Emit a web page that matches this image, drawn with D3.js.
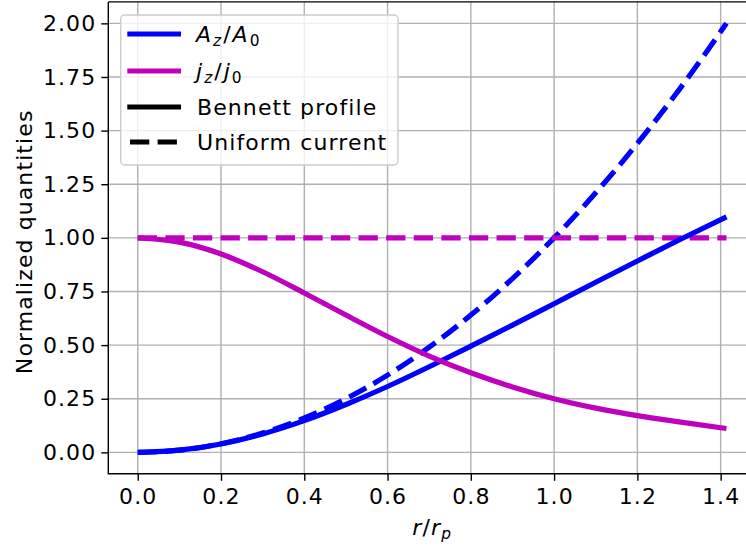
<!DOCTYPE html>
<html>
<head>
<meta charset="utf-8">
<script src="https://cdn.jsdelivr.net/npm/d3@7"></script>
<style>
  body { margin: 0; background: #fff; }
  text { font-family: "DejaVu Sans", sans-serif; fill: #000; letter-spacing: 1.1px; }
</style>
</head>
<body>
<div id="chart"></div>
<script>
// values
var rValues  = [0, 0.1, 0.2, 0.3, 0.4, 0.5, 0.6, 0.7, 0.8, 0.9, 1.0, 1.1, 1.2, 1.3, 1.414];
var bennettA = [0, 0.01, 0.039, 0.086, 0.148, 0.223, 0.307, 0.399, 0.495, 0.593, 0.693, 0.793, 0.892, 0.99, 1.098];
var uniformA = [0, 0.01, 0.04, 0.09, 0.16, 0.25, 0.36, 0.49, 0.64, 0.81, 1.0, 1.21, 1.44, 1.69, 2.0];
var bennettJ = [1, 0.98, 0.925, 0.842, 0.743, 0.64, 0.54, 0.449, 0.371, 0.305, 0.25, 0.206, 0.171, 0.142, 0.111];
var uniformJ = [1, 1, 1, 1, 1, 1, 1, 1, 1, 1, 1, 1, 1, 1, 1];

var xTicks = [0, 0.2, 0.4, 0.6, 0.8, 1.0, 1.2, 1.4];
var yTicks = [0, 0.25, 0.5, 0.75, 1.0, 1.25, 1.5, 1.75, 2.0];

var svgWidth = 746;
var svgHeight = 546;
var fontSize = 22;
var lw = 5.2;
var dash = "19.3,8.3";
var blue = "#0000ff";
var magenta = "#bf00bf";

var svg = d3.select("#chart")
  .append("svg")
  .attr("width", svgWidth)
  .attr("height", svgHeight);

var xScale = d3.scaleLinear()
  .domain([-0.0707, 1.4849])
  .range([108.3, 756]);

var yScale = d3.scaleLinear()
  .domain([-0.1, 2.1])
  .range([473.8, 1.9]);

var plotLeft = xScale.range()[0], plotRight = xScale.range()[1];
var plotBottom = yScale.range()[0], plotTop = yScale.range()[1];

// grid
svg.append("g").selectAll("line")
  .data(xTicks).enter().append("line")
  .attr("x1", d => xScale(d)).attr("x2", d => xScale(d))
  .attr("y1", plotTop).attr("y2", plotBottom)
  .attr("stroke", "#b0b0b0").attr("stroke-width", 1.4);

svg.append("g").selectAll("line")
  .data(yTicks).enter().append("line")
  .attr("x1", plotLeft).attr("x2", plotRight)
  .attr("y1", d => yScale(d)).attr("y2", d => yScale(d))
  .attr("stroke", "#b0b0b0").attr("stroke-width", 1.4);

// axes
var bottomAxis = d3.axisBottom(xScale).tickValues(xTicks)
  .tickFormat(d3.format(".1f")).tickSize(7).tickPadding(8);
var leftAxis = d3.axisLeft(yScale).tickValues(yTicks)
  .tickFormat(d3.format(".2f")).tickSize(7).tickPadding(5);

var gx = svg.append("g")
  .attr("transform", `translate(0, ${plotBottom})`)
  .call(bottomAxis);
var gy = svg.append("g")
  .attr("transform", `translate(${plotLeft}, 0)`)
  .call(leftAxis);

[gx, gy].forEach(function(g) {
  g.attr("font-size", fontSize).attr("font-family", "DejaVu Sans");
  g.select(".domain").remove();
  g.selectAll("line").attr("stroke", "#000").attr("stroke-width", 1.4);
  g.selectAll("text").attr("fill", "#000");
});

// curves
svg.append("clipPath").attr("id", "plotclip")
  .append("rect")
  .attr("x", plotLeft).attr("y", plotTop)
  .attr("width", plotRight - plotLeft).attr("height", plotBottom - plotTop);

var line = d3.line()
  .x(d => xScale(d[0]))
  .y(d => yScale(d[1]))
  .curve(d3.curveMonotoneX);

var series = [
  { values: uniformA, color: blue, dashed: true },
  { values: uniformJ, color: magenta, dashed: true },
  { values: bennettA, color: blue, dashed: false },
  { values: bennettJ, color: magenta, dashed: false }
];

var plot = svg.append("g").attr("clip-path", "url(#plotclip)");
series.forEach(function(s) {
  plot.append("path")
    .datum(rValues.map((r, i) => [r, s.values[i]]))
    .attr("d", line)
    .attr("fill", "none")
    .attr("stroke", s.color)
    .attr("stroke-width", lw)
    .attr("stroke-dasharray", s.dashed ? dash : null);
});

// frame
svg.append("path")
  .attr("d", `M${plotLeft},${plotTop}H${plotRight}M${plotLeft},${plotTop}V${plotBottom}H${plotRight}`)
  .attr("fill", "none")
  .attr("stroke", "#000")
  .attr("stroke-width", 1.4);

// axis labels
var xLabel = svg.append("text")
  .attr("x", (plotLeft + plotRight) / 2)
  .attr("y", 535)
  .attr("text-anchor", "middle")
  .attr("font-size", fontSize);
xLabel.append("tspan").attr("font-style", "italic").text("r");
xLabel.append("tspan").text("/");
xLabel.append("tspan").attr("font-style", "italic").text("r");
xLabel.append("tspan").attr("font-style", "italic").attr("font-size", fontSize * 0.7).attr("dy", 4).text("p");

svg.append("text")
  .attr("transform", `translate(32, ${(plotTop + plotBottom) / 2 + 4}) rotate(-90)`)
  .attr("text-anchor", "middle")
  .attr("font-size", fontSize)
  .text("Normalized quantities");

// legend
var legend = svg.append("g");
legend.append("rect")
  .attr("x", 120.7).attr("y", 15)
  .attr("width", 277.3).attr("height", 150)
  .attr("rx", 4)
  .attr("fill", "#fff").attr("fill-opacity", 0.8)
  .attr("stroke", "#cccccc").attr("stroke-width", 1.4);

var legendItems = [
  { color: blue, dashed: false, y: 34 },
  { color: magenta, dashed: false, y: 71 },
  { color: "#000", dashed: false, y: 107 },
  { color: "#000", dashed: true, y: 142 }
];

legendItems.forEach(function(item) {
  legend.append("line")
    .attr("x1", item.dashed ? 130 : 127.3)
    .attr("x2", 181)
    .attr("y1", item.y).attr("y2", item.y)
    .attr("stroke", item.color)
    .attr("stroke-width", lw)
    .attr("stroke-dasharray", item.dashed ? dash : null);
});

function mathLabel(y, base, sub, base2, sub2) {
  var t = legend.append("text")
    .attr("x", 196).attr("y", y + 8)
    .attr("font-size", fontSize)
    .style("letter-spacing", "2px");
  t.append("tspan").attr("font-style", "italic").text(base);
  t.append("tspan").attr("font-style", "italic").attr("font-size", fontSize * 0.7).attr("dy", 4).text(sub);
  t.append("tspan").attr("dy", -4).text("/");
  t.append("tspan").attr("font-style", "italic").text(base2);
  t.append("tspan").attr("font-size", fontSize * 0.7).attr("dy", 4).text(sub2);
}
mathLabel(34, "A", "z", "A", "0");
mathLabel(71, "j", "z", "j", "0");

legend.append("text")
  .attr("x", 197).attr("y", 107 + 8)
  .attr("font-size", fontSize)
  .text("Bennett profile");
legend.append("text")
  .attr("x", 197).attr("y", 142 + 8)
  .attr("font-size", fontSize)
  .text("Uniform current");
</script>
</body>
</html>
